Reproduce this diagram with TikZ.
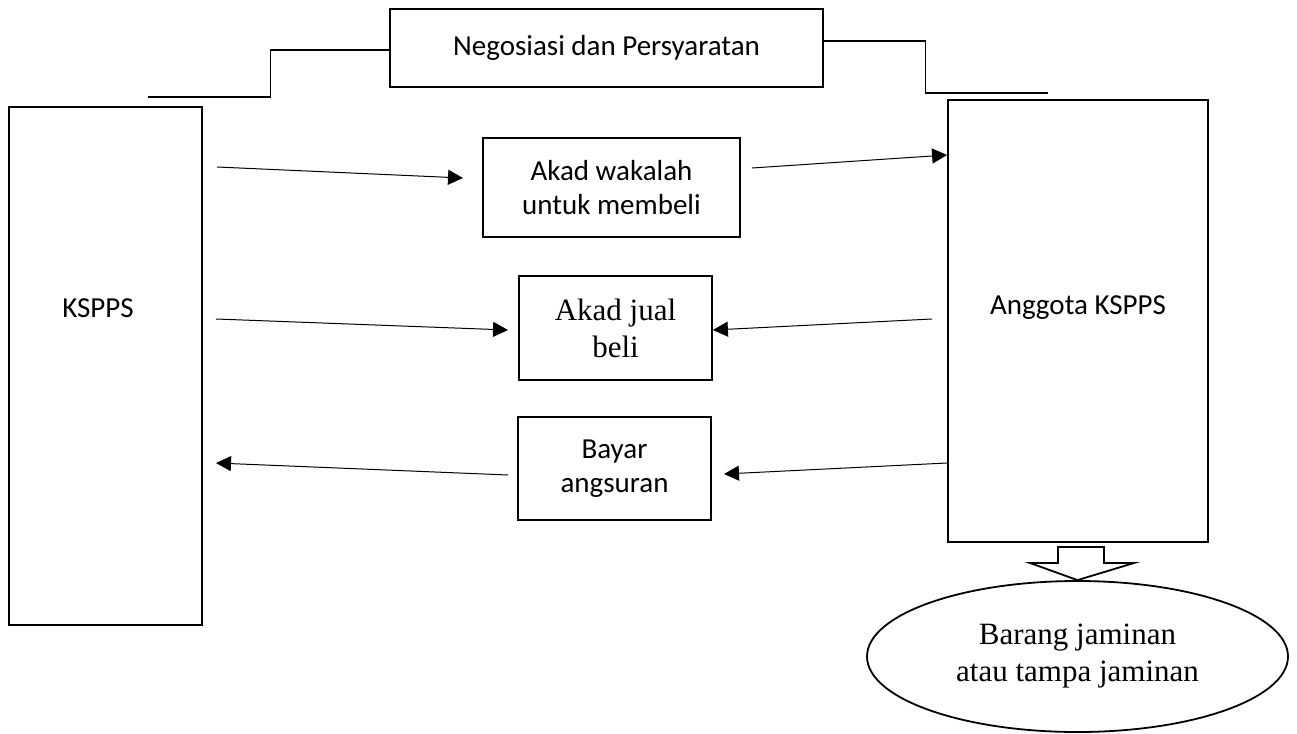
\documentclass[tikz,border=0pt]{standalone}
\usepackage{fontspec}
\setmainfont{Carlito}
\newfontfamily\serifjam{Liberation Serif}
\usetikzlibrary{arrows.meta,shapes.geometric,positioning}

\begin{document}
\begin{tikzpicture}[x=1pt,y=-1pt,
  kotak/.style={draw,line width=1.8pt,inner sep=0pt,align=center,
    font=\fontsize{29}{34}\selectfont},
  tulisan/.style={font=\fontsize{29}{34}\selectfont},
  serifbox/.style={kotak,font=\serifjam\fontsize{31}{37}\selectfont},
  garis/.style={line width=1.1pt},
  panah/.style={line width=1pt,-{Triangle[length=15pt,width=15pt]}}]

  \fill[white] (0,0) rectangle (1297,733);
  \useasboundingbox (0,0) rectangle (1297,733);

  % nodes
  \node[kotak,minimum width=433,minimum height=78] (nego) at (606.5,48)
    {Negosiasi dan Persyaratan};
  \node[kotak,minimum width=193,minimum height=518] (kspps) at (105.5,366) {};
  \node[tulisan] (ksppslabel) at (98,308) {KSPPS};
  \node[kotak,minimum width=260,minimum height=442] (anggota) at (1078,321) {};
  \node[tulisan] (anggotalabel) at (1078,308) {Anggota KSPPS};
  \node[kotak,minimum width=257,minimum height=99] (wakalah) at (611.5,187.5)
    {Akad wakalah\\untuk membeli};
  \node[serifbox,minimum width=193,minimum height=104] (jualbeli) at (615.5,328)
    {Akad jual\\beli};
  \node[kotak,minimum width=193,minimum height=103] (bayar) at (614.5,468.5)
    {Bayar\\angsuran};
  \node[draw,ellipse,line width=1.8pt,minimum width=421,minimum height=151,
    inner sep=0pt,align=center,font=\serifjam\fontsize{31}{37}\selectfont]
    (jaminan) at (1077.5,656.5) {Barang jaminan\\atau tampa jaminan};

  % top connectors
  \draw[garis] ([yshift=-2pt]nego.west) -- ++(-119,0) |- ++(-122,47);
  \draw[garis] ([yshift=7pt]nego.east) -- ++(102,0) |- ++(122,52);

  % arrows
  \coordinate (a1) at (217,167);
  \coordinate (a2) at (463,178);
  \coordinate (a3) at (752,168);
  \coordinate (a4) at (948,155);
  \coordinate (b1) at (216,319);
  \coordinate (b2) at (508,330);
  \coordinate (b3) at (932,319);
  \coordinate (c1) at (508,475);
  \coordinate (c2) at (216,463);
  \coordinate (c3) at (724,474);
  \draw[panah] (a1) -- (a2);
  \draw[panah] (a3) -- (anggota.west |- a4);
  \draw[panah] (b1) -- (b2);
  \draw[panah] (b3) -- (jualbeli.east |- 0,330);
  \draw[panah] (anggota.west |- 0,463) -- (c3);
  \draw[panah] (c1) -- (c2);

  % block arrow
  \draw[line width=1.8pt,fill=white] (1058,547) -- (1104,547) -- (1104,563)
    -- (1134,563) -- (jaminan.north) -- (1030,563) -- (1058,563) -- cycle;
\end{tikzpicture}
\end{document}
